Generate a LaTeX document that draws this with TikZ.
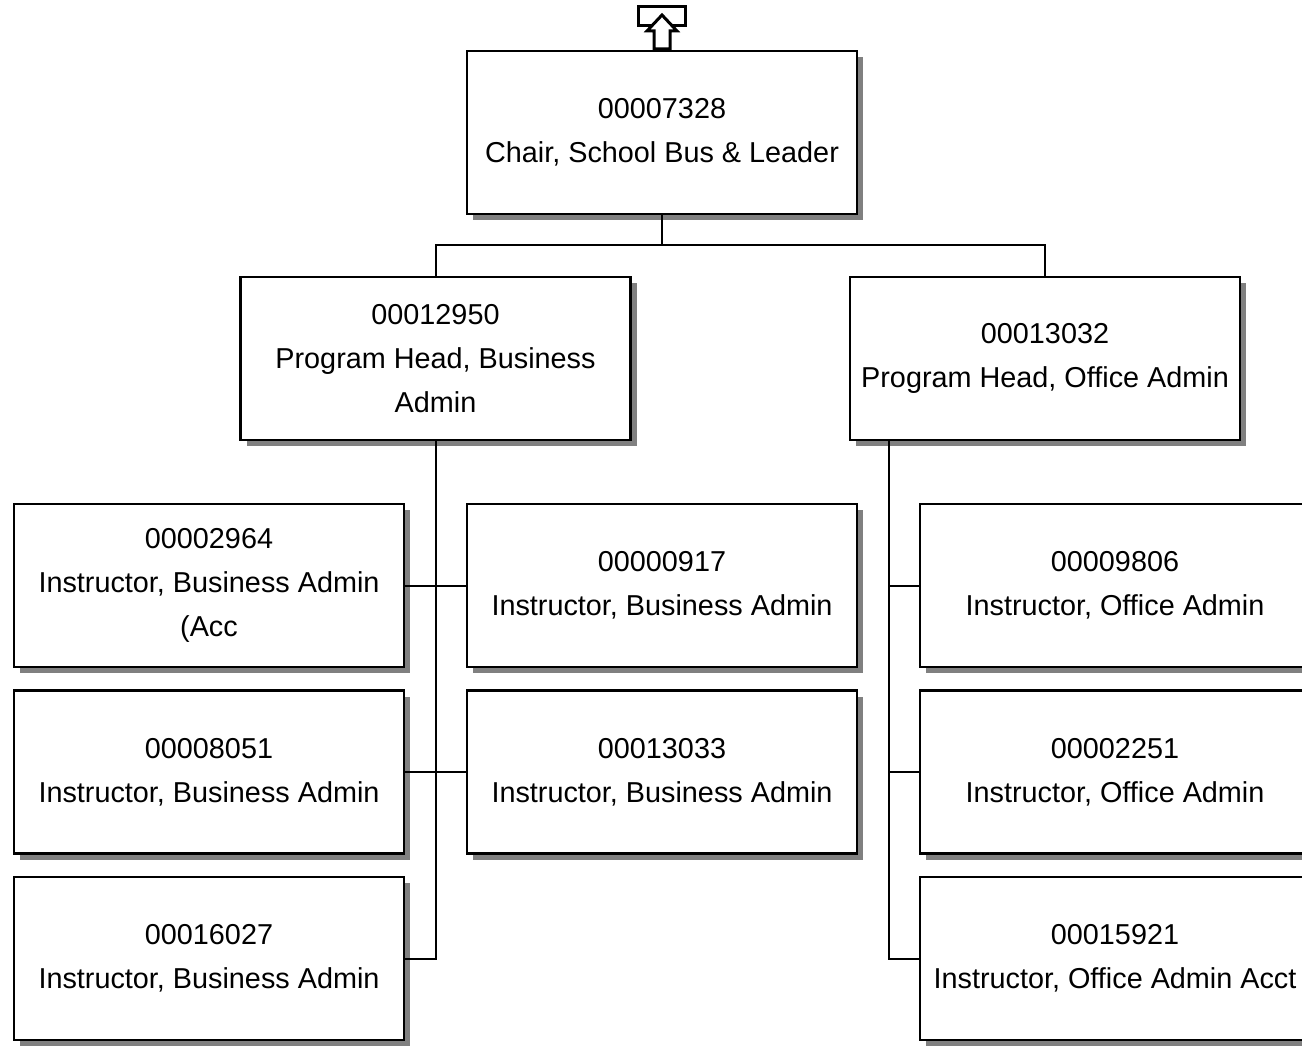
\documentclass[tikz,border=0pt]{standalone}
\usepackage{fontspec}
\setmainfont{Liberation Sans}
\usetikzlibrary{shadows}
\definecolor{shadowgray}{HTML}{808080}
\begin{document}
\begin{tikzpicture}[x=1pt,y=-1pt,
  orgbox/.style={draw=black, fill=white, line width=2.5pt, minimum width=390pt, minimum height=163pt,
    inner sep=0pt, align=center, font=\fontsize{28.8}{44}\selectfont,
    drop shadow={shadow xshift=6pt, shadow yshift=-6pt, fill=shadowgray, opacity=1}},
  link/.style={draw=black, line width=2pt}]
\useasboundingbox (0,0) rectangle (1302,1046);
\clip (0,0) rectangle (1302,1046);
\fill[white] (0,0) rectangle (1302,1046);

% top icon
\draw[line width=3pt] (638,7) rectangle (685,26);
\draw[line width=3pt, fill=white, line join=miter] (662,15) -- (677,31) -- (670,31) -- (670,49) -- (654,49) -- (654,31) -- (647,31) -- cycle;

\node[orgbox] (top) at (662,132.5) {00007328\\Chair, School Bus \& Leader};
\node[orgbox] (phb) at (435.5,358.5) {00012950\\Program Head, Business\\Admin};
\node[orgbox] (pho) at (1045,358.5) {00013032\\Program Head, Office Admin};

\node[orgbox] (l1) at (209,585.5) {00002964\\Instructor, Business Admin\\(Acc};
\node[orgbox] (l2) at (209,772) {00008051\\Instructor, Business Admin};
\node[orgbox] (l3) at (209,958.5) {00016027\\Instructor, Business Admin};
\node[orgbox] (m1) at (662,585.5) {00000917\\Instructor, Business Admin};
\node[orgbox] (m2) at (662,772) {00013033\\Instructor, Business Admin};
\node[orgbox] (r1) at (1115,585.5) {00009806\\Instructor, Office Admin};
\node[orgbox] (r2) at (1115,772) {00002251\\Instructor, Office Admin};
\node[orgbox] (r3) at (1115,958.5) {00015921\\Instructor, Office Admin Acct};

\draw[link] (top.south) -- ++(0,30) -| (phb.north);
\draw[link] (top.south) -- ++(0,30) -| (pho.north);

\draw[link] (phb.south) |- (l3.east);
\draw[link] (l1.east) -- (m1.west);
\draw[link] (l2.east) -- (m2.west);

\coordinate (os) at ([xshift=40pt]pho.south west);
\draw[link] (os) |- (r1.west);
\draw[link] (os) |- (r2.west);
\draw[link] (os) |- (r3.west);
\end{tikzpicture}
\end{document}
